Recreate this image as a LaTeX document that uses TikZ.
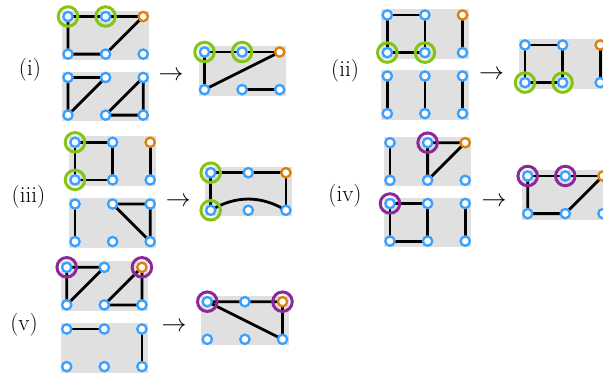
\documentclass[tikz,border=0pt]{standalone}
\usetikzlibrary{backgrounds}
\definecolor{vblue}{RGB}{56,160,255}
\definecolor{vorange}{RGB}{220,128,10}
\definecolor{vgreen}{RGB}{132,196,20}
\definecolor{vpurple}{RGB}{140,40,155}
\definecolor{rectgray}{RGB}{224,224,224}
\tikzset{
  bgfill/.style={fill=rectgray},
  edge/.style={line width=2.8pt, draw=black},
  bvtx/.style={circle, draw=vblue, fill=white, line width=2.3pt, minimum size=9.3pt, inner sep=0pt},
  ovtx/.style={bvtx, draw=vorange},
  gring/.style={circle, draw=vgreen, line width=3pt, minimum size=19.5pt, inner sep=0pt},
  pring/.style={gring, draw=vpurple},
  lab/.style={font=\fontsize{23}{27}\selectfont, inner sep=0pt},
}
\newcommand\mkgrid[4]{%
  \begin{scope}[on background layer]
    \fill[bgfill] ({#2-6},{#3-6}) rectangle ({#2+2*37.6+6},{#3+37.6+6});
  \end{scope}
  \foreach \gx/\gy in {0/0,1/0,0/1,1/1,2/1}{%
    \node[bvtx] (#1-\gx-\gy) at ({#2+\gx*37.6},{#3+\gy*37.6}) {};}
  \node[#4vtx] (#1-2-0) at ({#2+2*37.6},{#3}) {};
}
\begin{document}
\begin{tikzpicture}[x=1pt,y=-1pt]
\useasboundingbox (0,0) rectangle (603,376);
% ---------- panel (i)
\node[lab] (l1) at (30,70) {(i)};
\node[lab] (a1) at (171,76) {$\rightarrow$};
\mkgrid{P1T}{68}{16.5}{o}
\mkgrid{P1B}{68}{77.5}{b}
\mkgrid{P1R}{204.5}{52}{o}
% ---------- panel (ii)
\node[lab] (l2) at (345,71) {(ii)};
\node[lab] (a2) at (491.5,75) {$\rightarrow$};
\mkgrid{P2T}{387.3}{15}{o}
\mkgrid{P2B}{387.3}{76}{b}
\mkgrid{P2R}{525}{45}{o}
% ---------- panel (iii)
\node[lab] (l3) at (28.5,197) {(iii)};
\node[lab] (a3) at (178.3,201.7) {$\rightarrow$};
\mkgrid{P3T}{75}{142.3}{o}
\mkgrid{P3B}{75}{204}{b}
\mkgrid{P3R}{210.7}{172.7}{o}
% ---------- panel (iv)
\node[lab] (l4) at (345,196) {(iv)};
\node[lab] (a4) at (494,201.7) {$\rightarrow$};
\mkgrid{P4T}{390}{142.7}{o}
\mkgrid{P4B}{390}{203.5}{b}
\mkgrid{P4R}{527.7}{176}{o}
% ---------- panel (v)
\node[lab] (l5) at (24,325) {(v)};
\node[lab] (a5) at (174,326.7) {$\rightarrow$};
\mkgrid{P5T}{66.7}{267.3}{o}
\mkgrid{P5B}{66.7}{329}{b}
\mkgrid{P5R}{207.3}{301.7}{o}
% ---------- edges
\begin{scope}[on background layer]
  % (i)
  \draw[edge] (P1T-0-0.center) -- (P1T-2-0.center);
  \draw[edge] (P1T-0-0.center) -- (P1T-0-1.center) -- (P1T-1-1.center) -- (P1T-2-0.center);
  \draw[edge] (P1B-1-0.center) -- (P1B-0-0.center) -- (P1B-0-1.center) -- (P1B-1-0.center);
  \draw[edge] (P1B-1-1.center) -- (P1B-2-0.center) -- (P1B-2-1.center) -- (P1B-1-1.center);
  \draw[edge] (P1R-0-0.center) -- (P1R-2-0.center);
  \draw[edge] (P1R-0-0.center) -- (P1R-0-1.center) -- (P1R-2-0.center);
  \draw[edge] (P1R-1-1.center) -- (P1R-2-1.center);
  % (ii)
  \draw[edge] (P2T-0-0.center) -- (P2T-1-0.center) -- (P2T-1-1.center) -- (P2T-0-1.center) -- cycle;
  \draw[edge] (P2T-2-0.center) -- (P2T-2-1.center);
  \draw[edge] (P2B-0-0.center) -- (P2B-0-1.center);
  \draw[edge] (P2B-1-0.center) -- (P2B-1-1.center);
  \draw[edge] (P2B-2-0.center) -- (P2B-2-1.center);
  \draw[edge] (P2R-0-0.center) -- (P2R-1-0.center) -- (P2R-1-1.center) -- (P2R-0-1.center) -- cycle;
  \draw[edge] (P2R-2-0.center) -- (P2R-2-1.center);
  % (iii)
  \draw[edge] (P3T-0-0.center) -- (P3T-1-0.center) -- (P3T-1-1.center) -- (P3T-0-1.center) -- cycle;
  \draw[edge] (P3T-2-0.center) -- (P3T-2-1.center);
  \draw[edge] (P3B-0-0.center) -- (P3B-0-1.center);
  \draw[edge] (P3B-1-0.center) -- (P3B-2-0.center) -- (P3B-2-1.center) -- (P3B-1-0.center);
  \draw[edge] (P3R-0-1.center) -- (P3R-0-0.center) -- (P3R-2-0.center) -- (P3R-2-1.center);
  \draw[edge] (P3R-0-1.center) .. controls +(25,-15) and +(-25,-15) .. (P3R-2-1.center);
  % (iv)
  \draw[edge] (P4T-0-0.center) -- (P4T-0-1.center);
  \draw[edge] (P4T-1-1.center) -- (P4T-1-0.center) -- (P4T-2-0.center) -- (P4T-1-1.center);
  \draw[edge] (P4B-0-0.center) -- (P4B-1-0.center) -- (P4B-1-1.center) -- (P4B-0-1.center) -- cycle;
  \draw[edge] (P4B-2-0.center) -- (P4B-2-1.center);
  \draw[edge] (P4R-0-0.center) -- (P4R-2-0.center);
  \draw[edge] (P4R-0-0.center) -- (P4R-0-1.center) -- (P4R-1-1.center) -- (P4R-2-0.center);
  % (v)
  \draw[edge] (P5T-1-0.center) -- (P5T-0-0.center) -- (P5T-0-1.center) -- (P5T-1-0.center);
  \draw[edge] (P5T-1-1.center) -- (P5T-2-0.center) -- (P5T-2-1.center) -- (P5T-1-1.center);
  \draw[edge] (P5B-0-0.center) -- (P5B-1-0.center);
  \draw[edge] (P5B-2-0.center) -- (P5B-2-1.center);
  \draw[edge] (P5R-0-0.center) -- (P5R-2-0.center) -- (P5R-2-1.center) -- (P5R-0-0.center);
\end{scope}
% ---------- rings
\node[gring] (r1a) at (P1T-0-0) {};
\node[gring] (r1b) at (P1T-1-0) {};
\node[gring] (r1c) at (P1R-0-0) {};
\node[gring] (r1d) at (P1R-1-0) {};
\node[gring] (r2a) at (P2T-0-1) {};
\node[gring] (r2b) at (P2T-1-1) {};
\node[gring] (r2c) at (P2R-0-1) {};
\node[gring] (r2d) at (P2R-1-1) {};
\node[gring] (r3a) at (P3T-0-0) {};
\node[gring] (r3b) at (P3T-0-1) {};
\node[gring] (r3c) at (P3R-0-0) {};
\node[gring] (r3d) at (P3R-0-1) {};
\node[pring] (r4a) at (P4T-1-0) {};
\node[pring] (r4b) at (P4B-0-0) {};
\node[pring] (r4c) at (P4R-0-0) {};
\node[pring] (r4d) at (P4R-1-0) {};
\node[pring] (r5a) at (P5T-0-0) {};
\node[pring] (r5b) at (P5T-2-0) {};
\node[pring] (r5c) at (P5R-0-0) {};
\node[pring] (r5d) at (P5R-2-0) {};
\end{tikzpicture}
\end{document}
